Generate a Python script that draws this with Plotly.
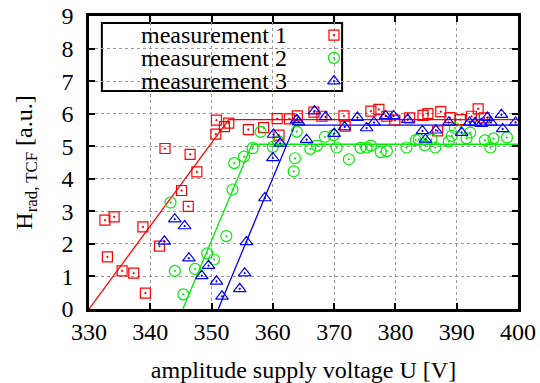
import plotly.graph_objects as go

# ---------------- data ----------------
m1_u = [332.6, 334.1, 333.0, 335.4, 337.3, 338.8, 339.2, 341.5, 342.4, 345.1, 346.2, 346.5,
        347.6, 350.7, 350.8, 352.1, 352.8, 356.0, 358.5, 360.7, 361.0, 362.7, 364.0, 366.7,
        368.0, 371.6, 371.8, 376.0, 377.3, 378.6, 379.9, 382.3, 384.5, 385.3, 386.9, 387.4,
        388.9, 390.6, 392.4, 393.5, 394.5]
m1_h = [2.73, 2.83, 1.60, 1.17, 1.10, 2.52, 0.49, 1.93, 4.93, 3.64, 3.15, 4.75,
        4.21, 5.37, 5.80, 5.60, 5.71, 5.51, 5.57, 5.85, 5.34, 5.84, 5.93, 6.05,
        5.92, 5.93, 5.62, 6.08, 6.13, 5.92, 5.80, 5.87, 5.95, 6.00, 5.47, 6.06,
        5.88, 5.82, 5.92, 6.15, 5.87]

m2_u = [343.3, 344.0, 345.4, 347.3, 349.3, 350.4, 352.4, 353.4, 353.7, 355.3, 356.7, 358.0,
        360.0, 360.9, 363.4, 363.6, 363.9, 366.1, 367.2, 368.5, 369.9, 370.4, 372.4, 374.3,
        375.3, 376.0, 377.6, 378.6, 381.8, 383.3, 383.8, 384.8, 385.9, 386.5, 388.7, 389.2,
        389.7, 391.6, 392.2, 394.6, 395.5, 396.0, 398.2]
m2_h = [3.27, 1.17, 0.45, 1.23, 1.71, 1.52, 2.24, 3.67, 4.48, 4.68, 4.94, 5.44,
        4.98, 5.15, 4.23, 4.63, 5.45, 4.92, 5.02, 5.29, 5.34, 4.96, 4.60, 4.95,
        4.96, 5.02, 4.82, 4.85, 4.96, 5.19, 5.21, 5.03, 5.21, 4.96, 5.15, 5.32,
        5.56, 5.24, 5.42, 5.18, 4.96, 5.24, 5.27]

m3_u = [342.3, 344.0, 345.6, 346.3, 348.4, 349.5, 350.8, 351.7, 354.6, 355.4, 355.7, 358.7,
        360.0, 360.1, 361.2, 363.9, 364.2, 365.5, 366.8, 368.6, 370.0, 371.7, 373.8, 375.3,
        376.5, 378.4, 379.7, 382.0, 384.4, 384.9, 386.6, 388.7, 390.8, 392.1, 393.0, 394.0,
        395.0, 395.6, 397.3, 397.5, 399.6]
m3_h = [2.08, 2.76, 2.55, 1.56, 1.02, 1.33, 0.85, 0.39, 0.62, 1.10, 2.06, 3.41,
        4.64, 5.36, 5.09, 5.81, 5.74, 5.20, 6.08, 5.90, 5.39, 5.59, 5.88, 5.56,
        5.73, 5.93, 5.93, 5.82, 5.47, 5.21, 5.49, 5.73, 5.42, 5.73, 5.72, 5.69,
        5.88, 5.73, 5.97, 5.53, 5.73]

fit1_u = [330.0, 352.8, 400.0]
fit1_h = [0.0, 5.82, 5.82]
fit2_u = [345.3, 356.6, 400.0]
fit2_h = [0.0, 5.06, 5.06]
fit3_u = [351.1, 363.6, 400.0]
fit3_h = [0.0, 5.65, 5.65]

series_names = ["measurement 1", "measurement 2", "measurement 3"]
x_ticks = [330, 340, 350, 360, 370, 380, 390, 400]
y_ticks = [0, 1, 2, 3, 4, 5, 6, 7, 8, 9]

# ---------------- style ----------------
RED, GREEN, BLUE = "#ff0000", "#00ee00", "#0000ff"
FONT = "Liberation Serif, Times New Roman, serif"
FS = 24

fig = go.Figure()

for u, h, c in [(fit1_u, fit1_h, RED), (fit2_u, fit2_h, GREEN), (fit3_u, fit3_h, BLUE)]:
    fig.add_trace(go.Scatter(x=u, y=h, mode="lines", line=dict(color=c, width=1.3),
                             showlegend=False, hoverinfo="skip"))

markers = [("square-open-dot", RED, 10), ("circle-open-dot", GREEN, 11), ("triangle-up-open-dot", BLUE, 11)]
for (u, h), name, (sym, c, sz) in zip([(m1_u, m1_h), (m2_u, m2_h), (m3_u, m3_h)], series_names, markers):
    fig.add_trace(go.Scatter(x=u, y=h, mode="markers", name=name,
                             marker=dict(symbol=sym, color=c, size=sz, line=dict(color=c, width=1.2)),
                             showlegend=False))

# custom legend (text left, symbol right, like gnuplot)
leg_text_x = 0.467
leg_sym_x = 0.571
leg_rows = [0.935, 0.857, 0.778]
for name, yy in zip(series_names, leg_rows):
    fig.add_annotation(x=leg_text_x, y=yy, xref="paper", yref="paper", text=name,
                       showarrow=False, xanchor="right", yanchor="middle", height=22,
                       font=dict(family=FONT, size=FS, color="black"))
for (sym, c, sz), yy in zip(markers, leg_rows):
    fig.add_trace(go.Scatter(x=[leg_sym_x], y=[yy], xaxis="x2", yaxis="y2", mode="markers",
                             marker=dict(symbol=sym, color=c, size=sz, line=dict(color=c, width=1.2)),
                             showlegend=False, hoverinfo="skip"))
fig.add_shape(type="rect", xref="paper", yref="paper", x0=0.030, x1=0.590, y0=0.744, y1=0.976,
              line=dict(color="black", width=2), fillcolor="white", layer="between")

axis_common = dict(showline=True, linecolor="black", linewidth=2.5, mirror="ticks",
                   ticks="inside", ticklen=6, tickwidth=1.5, tickcolor="black", automargin=False,
                   showgrid=True, gridcolor="#999999", griddash="dot", gridwidth=1,
                   zeroline=False, tickfont=dict(family=FONT, size=FS, color="black"))

fig.update_layout(
    width=540, height=383,
    margin=dict(l=89, r=22, t=16, b=74),
    paper_bgcolor="white", plot_bgcolor="white",
    showlegend=False,
    xaxis=dict(range=[330, 400], tickvals=x_ticks, ticklabelstandoff=-1,
               title=dict(text="amplitude supply voltage U [V]", standoff=18,
                          font=dict(family=FONT, size=FS, color="black")),
               **axis_common),
    yaxis=dict(range=[0, 9], tickvals=y_ticks, ticklabelstandoff=8,
               title=dict(text="H<sub>rad, TCF</sub> [a.u.]", standoff=23,
                          font=dict(family=FONT, size=FS, color="black")),
               **axis_common),
    xaxis2=dict(overlaying="x", range=[0, 1], visible=False),
    yaxis2=dict(overlaying="y", range=[0, 1], visible=False),
)

fig.write_html("out.html", config={"displayModeBar": False},
               post_script="document.body.style.margin='0px';")
